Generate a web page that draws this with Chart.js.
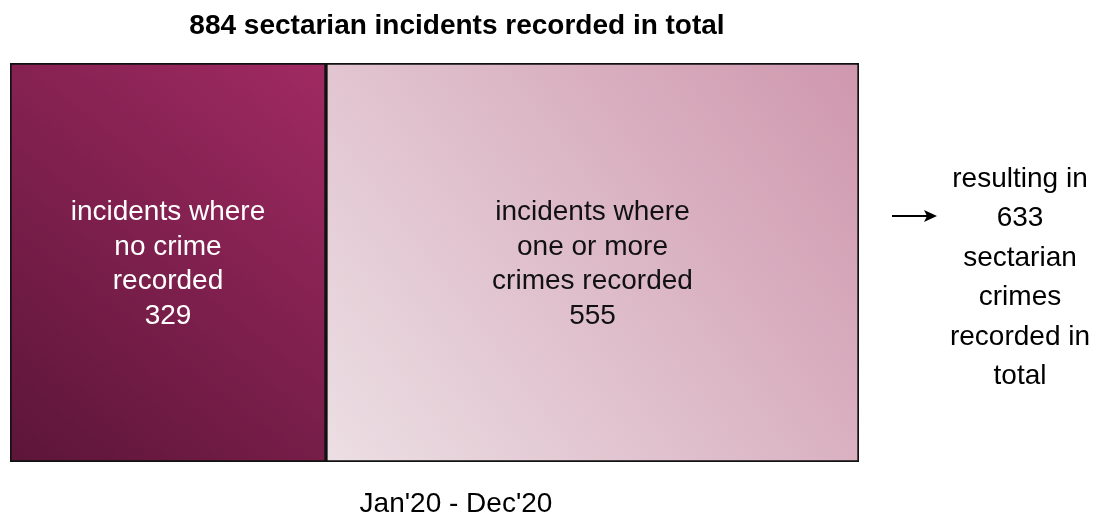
<!DOCTYPE html>
<html>
<head>
<meta charset="utf-8">
<script src="https://cdn.jsdelivr.net/npm/chart.js@4"></script>
<style>
  html, body { margin: 0; padding: 0; background: #fff; }
  #wrap { width: 1093px; height: 517px; }
</style>
</head>
<body>
<div id="wrap"><canvas id="chart" width="1093" height="517"></canvas></div>
<script>
// data
const period = ["Jan'20 - Dec'20"];
const segmentNames = [
  ['incidents where', 'no crime', 'recorded'],
  ['incidents where', 'one or more', 'crimes recorded']
];
const noCrime = [329];
const withCrime = [555];
const totalIncidents = 884;
const totalCrimes = 633;

const FONT = '"Liberation Sans", Arial, sans-serif';

// diagonal gradient (bottom-left -> top-right) per segment
function segGradient(ctx, from, to) {
  const chart = ctx.chart;
  const area = chart.chartArea;
  if (!area) return from;
  const x = chart.scales.x;
  let start = 0;
  for (let i = 0; i < ctx.datasetIndex; i++) start += chart.data.datasets[i].data[0];
  const x0 = x.getPixelForValue(start);
  const x1 = x.getPixelForValue(start + chart.data.datasets[ctx.datasetIndex].data[0]);
  const g = chart.ctx.createLinearGradient(x0, area.bottom, x1, area.top);
  g.addColorStop(0, from);
  g.addColorStop(1, to);
  return g;
}

const textPlugin = {
  id: 'texts',
  afterDatasetsDraw(chart) {
    const c = chart.ctx;
    c.save();
    c.textAlign = 'center';
    c.textBaseline = 'middle';

    // labels in the segments
    chart.data.datasets.forEach((ds, i) => {
      const bar = chart.getDatasetMeta(i).data[0];
      const cx = (bar.x + bar.base) / 2;
      const lines = segmentNames[i].concat([String(ds.data[0])]);
      const lh = 34.5;
      const y0 = bar.y + 2 - lh * (lines.length - 1) / 2;
      c.fillStyle = i === 0 ? '#ffffff' : '#111111';
      c.font = '28px ' + FONT;
      lines.forEach((t, k) => c.fillText(t, cx, y0 + lh * k));
    });

    // title
    c.fillStyle = '#000';
    c.font = 'bold 28px ' + FONT;
    c.fillText(totalIncidents + ' sectarian incidents recorded in total', 457, 26);

    // period label below
    c.font = '28px ' + FONT;
    c.fillText(period[0], 456, 504);

    // right hand note
    const note = ['resulting in', String(totalCrimes), 'sectarian', 'crimes', 'recorded in', 'total'];
    note.forEach((t, k) => c.fillText(t, 1020, 179 + 39.5 * k));

    // arrow
    c.strokeStyle = '#000';
    c.lineWidth = 2;
    c.beginPath();
    c.moveTo(892, 216);
    c.lineTo(928, 216);
    c.stroke();
    c.beginPath();
    c.moveTo(937, 216);
    c.lineTo(924, 210);
    c.lineTo(927, 216);
    c.lineTo(924, 222);
    c.closePath();
    c.fillStyle = '#000';
    c.fill();
    c.restore();
  }
};

new Chart(document.getElementById('chart'), {
  type: 'bar',
  data: {
    labels: period,
    datasets: [
      {
        label: 'no crime recorded',
        data: noCrime,
        backgroundColor: ctx => segGradient(ctx, '#5c1538', '#a02a62'),
        borderColor: '#111',
        borderWidth: 2,
        borderSkipped: false
      },
      {
        label: 'one or more crimes recorded',
        data: withCrime,
        backgroundColor: ctx => segGradient(ctx, '#ecdfe4', '#cf97ad'),
        borderColor: '#111',
        borderWidth: 2,
        borderSkipped: false
      }
    ]
  },
  options: {
    indexAxis: 'y',
    responsive: false,
    animation: false,
    devicePixelRatio: 1,
    layout: { padding: { left: 10, right: 234, top: 63, bottom: 55 } },
    datasets: { bar: { categoryPercentage: 1, barPercentage: 1 } },
    scales: {
      x: { stacked: true, min: 0, max: totalIncidents, display: false },
      y: { stacked: true, display: false }
    },
    plugins: {
      legend: { display: false },
      tooltip: { enabled: false }
    }
  },
  plugins: [textPlugin]
});
</script>
</body>
</html>
